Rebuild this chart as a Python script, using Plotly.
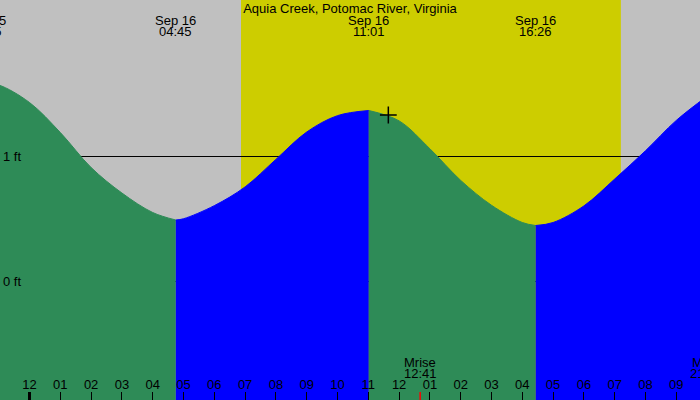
import pandas as pd
import plotly.graph_objects as go

# tide curve (feet)
tide_time = [
    "2024-09-15 22:35", "2024-09-15 23:00", "2024-09-16 00:00", "2024-09-16 01:00",
    "2024-09-16 02:00", "2024-09-16 03:00", "2024-09-16 04:00", "2024-09-16 04:45",
    "2024-09-16 05:00", "2024-09-16 06:00", "2024-09-16 07:00", "2024-09-16 08:00",
    "2024-09-16 09:00", "2024-09-16 10:00", "2024-09-16 11:01", "2024-09-16 12:00",
    "2024-09-16 13:00", "2024-09-16 14:00", "2024-09-16 15:00", "2024-09-16 16:00",
    "2024-09-16 16:26", "2024-09-16 17:00", "2024-09-16 18:00", "2024-09-16 19:00",
    "2024-09-16 20:00", "2024-09-16 21:00", "2024-09-16 22:00",
]
tide_ft = [
    1.58, 1.57, 1.43, 1.19,
    0.91, 0.706, 0.55, 0.49,
    0.50, 0.605, 0.755, 0.975,
    1.194, 1.325, 1.366, 1.283,
    1.06, 0.807, 0.608, 0.47,
    0.446, 0.47, 0.603, 0.818,
    1.044, 1.287, 1.48,
]

extreme_time = ["2024-09-15 22:35", "2024-09-16 04:45", "2024-09-16 11:01", "2024-09-16 16:26"]
extreme_day = ["Sep 15", "Sep 16", "Sep 16", "Sep 16"]
extreme_hhmm = ["22:35", "04:45", "11:01", "16:26"]

sunrise = "2024-09-16 06:52"
sunset = "2024-09-16 19:12"

moon_time = ["2024-09-16 12:41", "2024-09-16 21:59"]
moon_name = ["Mrise", "Mset"]
moon_hhmm = ["12:41", "21:59"]

now_time = ["2024-09-16 11:39"]
now_ft = [1.33]

midnight = "2024-09-16 00:00"

x_start = "2024-09-15 23:02:30"
x_end = "2024-09-16 21:46:10"
y_min, y_max = -0.95, 2.25

GRAY = "#C0C0C0"
YELLOW = "#CDCD00"
GREEN = "#2E8B57"
BLUE = "#0000FF"
FONT = "Liberation Sans"

W, H = 700, 400
t0, t1 = pd.Timestamp(x_start), pd.Timestamp(x_end)
px_per_hour = W / ((t1 - t0) / pd.Timedelta(hours=1))


def anchor(t):
    # keep labels that sit just off the axis range, shifted to their true place
    t = pd.Timestamp(t)
    c = min(max(t, t0), t1)
    return c, (t - c) / pd.Timedelta(hours=1) * px_per_hour


fig = go.Figure()

times = list(pd.to_datetime(tide_time))
idx = [times.index(pd.Timestamp(t)) for t in extreme_time] + [len(times) - 1]
colors = [GREEN, BLUE, GREEN, BLUE]
for i, col in enumerate(colors):
    a, b = idx[i], idx[i + 1] + 1
    xs = tide_time[a:b]
    fig.add_trace(go.Scatter(x=xs, y=[y_min] * len(xs), mode="lines",
                             line=dict(width=0), hoverinfo="skip", showlegend=False))
    fig.add_trace(go.Scatter(x=xs, y=tide_ft[a:b], mode="lines", fill="tonexty",
                             fillcolor=col, line=dict(color=col, width=1, shape="spline"),
                             showlegend=False))

fig.add_trace(go.Scatter(x=now_time, y=now_ft, mode="markers", showlegend=False,
                         marker=dict(symbol="cross-thin", size=12,
                                     line=dict(color="black", width=1.5))))

# daylight band
fig.add_shape(type="rect", xref="x", yref="paper", x0=sunrise, x1=sunset, y0=0, y1=1,
              fillcolor=YELLOW, line_width=0, layer="below")
# special ticks
fig.add_shape(type="line", xref="x", yref="paper", x0=midnight, x1=midnight, y0=0, y1=0.02,
              line=dict(color="black", width=3))
fig.add_shape(type="line", xref="x", yref="paper", x0=moon_time[0], x1=moon_time[0], y0=0, y1=0.02,
              line=dict(color="red", width=1.5))

for t, d, hm in zip(extreme_time, extreme_day, extreme_hhmm):
    x, sh = anchor(t)
    fig.add_annotation(x=x, xshift=sh, y=1 - 20 / H, yref="paper", text=d, showarrow=False,
                       yanchor="middle")
    fig.add_annotation(x=x, xshift=sh, y=1 - 32 / H, yref="paper", text=hm, showarrow=False,
                       yanchor="middle")

for t, n, hm in zip(moon_time, moon_name, moon_hhmm):
    x, sh = anchor(t)
    fig.add_annotation(x=x, xshift=sh, y=1 - 362 / H, yref="paper", text=n, showarrow=False,
                       yanchor="middle")
    fig.add_annotation(x=x, xshift=sh, y=1 - 373 / H, yref="paper", text=hm, showarrow=False,
                       yanchor="middle")

fig.update_layout(
    width=W, height=H,
    margin=dict(l=0, r=0, t=0, b=0),
    paper_bgcolor=GRAY, plot_bgcolor=GRAY,
    font=dict(family=FONT, size=13, color="black"),
    title=dict(text="Aquia Creek, Potomac River, Virginia", x=0.5, xanchor="center",
               y=1 - 8 / H, yanchor="middle", font=dict(size=13, color="black")),
)
fig.update_xaxes(range=[x_start, x_end], tickformat="%I", dtick=3600000, tick0=midnight,
                 ticks="inside", ticklen=8, tickcolor="black", tickwidth=1,
                 tickfont=dict(color="black", size=13),
                 ticklabelposition="inside", showgrid=False, zeroline=False, showline=False)
fig.update_yaxes(range=[y_min, y_max], tickvals=[0, 1], ticktext=["0 ft", "1 ft"],
                 tickfont=dict(color="black", size=13),
                 ticklabelposition="inside", ticks="", showgrid=True, gridcolor="black",
                 gridwidth=1, zeroline=False, showline=False)

fig.write_html("out.html", config={"displayModeBar": False},
               post_script="document.body.style.margin='0';")
